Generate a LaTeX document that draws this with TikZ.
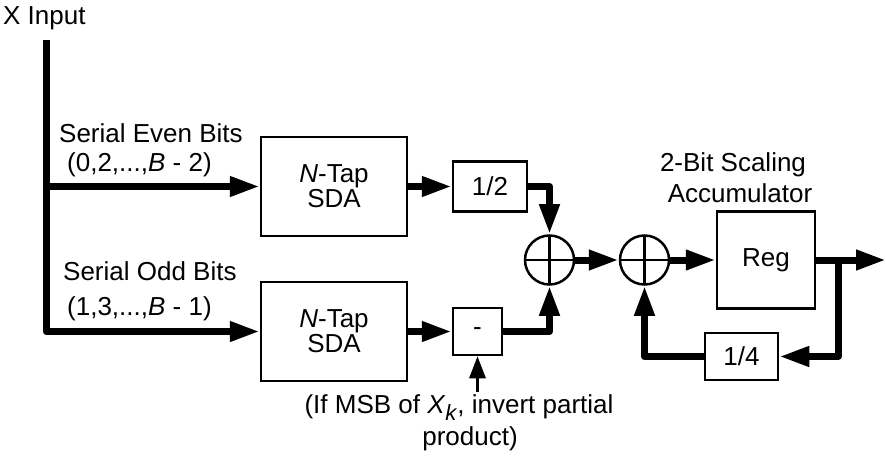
\documentclass[tikz,border=0pt]{standalone}
\usepackage{fontspec}
\setmainfont{Liberation Sans}
\usetikzlibrary{arrows.meta}
\tikzset{
  box/.style={draw, line width=2.5pt, inner sep=0pt, align=center},
  sumnode/.style={draw, circle, line width=2.5pt, minimum size=49pt, inner sep=0pt,
    path picture={\draw[line width=2.5pt] (path picture bounding box.north) -- (path picture bounding box.south)
      (path picture bounding box.west) -- (path picture bounding box.east);}},
  arr/.style={line width=7pt, line join=round, -{Triangle[length=30pt,width=19pt]}},
  thinarr/.style={line width=3pt, -{Triangle[length=22pt,width=16pt]}},
  lbl/.style={inner sep=0pt},
}
\begin{document}
\begin{tikzpicture}[x=1pt,y=-1pt,font=\fontsize{26}{25}\selectfont]
\useasboundingbox (0,0) rectangle (886,465);
% blocks
\node[box, minimum width=146pt, minimum height=99pt] (sda1) at (334,186.5) {\textit{N}-Tap\\SDA};
\node[box, minimum width=146pt, minimum height=99pt] (sda2) at (334,331.5) {\textit{N}-Tap\\SDA};
\node[box, minimum width=74pt, minimum height=50pt] (half) at (490,186.5) {1/2};
\node[box, minimum width=49pt, minimum height=47pt] (minus) at (477.5,331.5) {-};
\node[sumnode] (sum1) at (549.5,260) {};
\node[sumnode] (sum2) at (644.5,260) {};
\node[box, minimum width=98pt, minimum height=97pt] (reg) at (766,260) {Reg};
\node[box, minimum width=73pt, minimum height=47pt] (quarter) at (741.5,356.5) {1/4};
% labels
\node[lbl, anchor=base west] (xin) at (3,25) {X Input};
\node[lbl, anchor=base west] (even1) at (59,143) {Serial Even Bits};
\node[lbl, anchor=base west] (even2) at (67,172) {(0,2,...,\textit{B} - 2)};
\node[lbl, anchor=base west] (odd1) at (63,280) {Serial Odd Bits};
\node[lbl, anchor=base west] (odd2) at (67,315) {(1,3,...,\textit{B} - 1)};
\node[lbl, anchor=base] (acc1) at (733,172) {2-Bit Scaling};
\node[lbl, anchor=base] (acc2) at (740,203) {Accumulator};
\node[lbl, anchor=base] (msb1) at (459,413) {(If MSB of \textit{X}\raisebox{-7pt}{\fontsize{22}{22}\selectfont\textit{k}}, invert partial};
\node[lbl, anchor=base] (msb2) at (470,445) {product)};
% coordinates
\coordinate (top) at (46,40);
\coordinate (out) at (886,260);
\coordinate (br) at (838,260);
\coordinate (msbpt) at (477.5,392);
% connectors
\draw[arr] (top) |- (sda2.west);
\draw[arr] (top |- sda1.west) -- (sda1.west);
\draw[arr] (sda1.east) -- (half.west);
\draw[arr] (half.east) -| (sum1.north);
\draw[arr] (sda2.east) -- (minus.west);
\draw[arr] (minus.east) -| (sum1.south);
\draw[arr] (sum1.east) -- (sum2.west);
\draw[arr] (sum2.east) -- (reg.west);
\draw[arr] (reg.east) -- (out);
\draw[arr] (br) |- (quarter.east);
\draw[arr] (quarter.west) -| (sum2.south);
\draw[thinarr] (msbpt) -- (minus.south);
\end{tikzpicture}
\end{document}
